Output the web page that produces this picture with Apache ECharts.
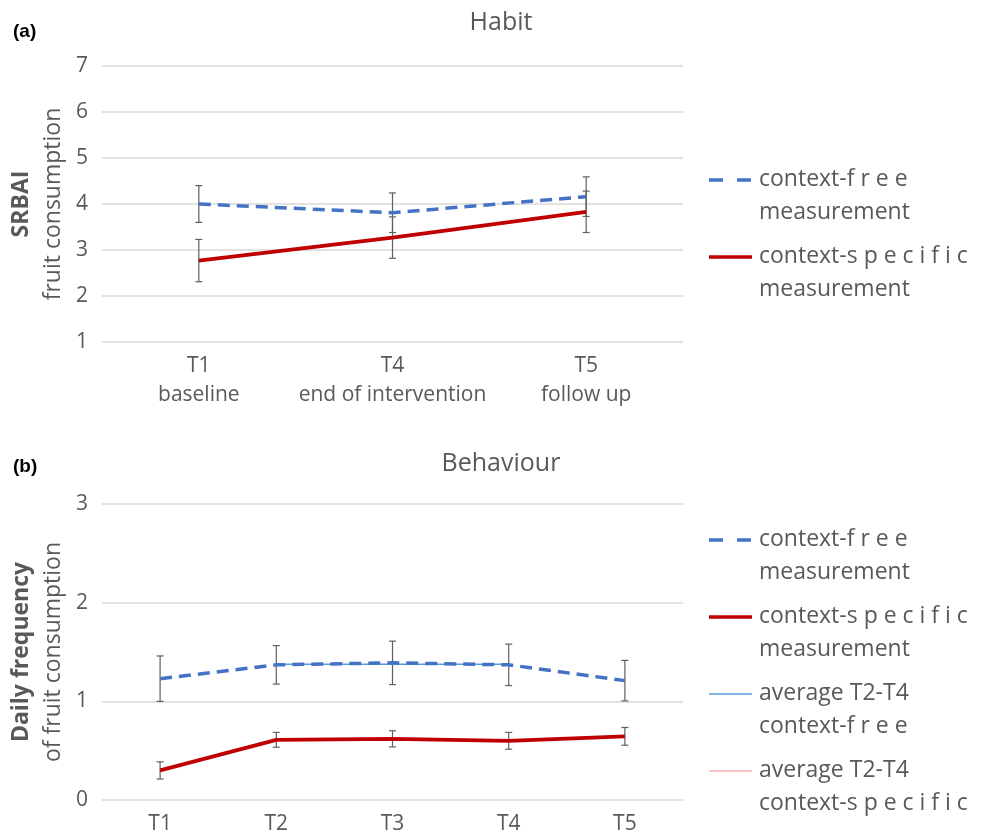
<!DOCTYPE html>
<html>
<head>
<meta charset="utf-8">
<script src="https://cdn.jsdelivr.net/npm/echarts@6/dist/echarts.min.js"></script>
<style>
  html, body { margin: 0; padding: 0; background: #fff; }
  #chart { width: 984px; height: 839px; }
</style>
</head>
<body>
<div id="chart"></div>
<script>
// panel (a) habit
var habitCats = ['T1\nbaseline', 'T4\nend of intervention', 'T5\nfollow up'];
var habitFree = [4.00, 3.81, 4.16];
var habitFreeErr = [0.40, 0.43, 0.43];
var habitSpec = [2.77, 3.27, 3.83];
var habitSpecErr = [0.46, 0.45, 0.45];

// panel (b) behaviour
var behavCats = ['T1', 'T2', 'T3', 'T4', 'T5'];
var behavFree = [1.23, 1.37, 1.39, 1.37, 1.21];
var behavFreeErr = [0.23, 0.195, 0.22, 0.21, 0.205];
var behavSpec = [0.30, 0.61, 0.62, 0.60, 0.645];
var behavSpecErr = [0.087, 0.075, 0.082, 0.085, 0.09];
var avgFree = 1.375;
var avgSpec = 0.61;

var legendA = ['context-f r e e\nmeasurement', 'context-s p e c i f i c\nmeasurement'];
var legendB = ['context-f r e e\nmeasurement', 'context-s p e c i f i c\nmeasurement',
               'average T2-T4\ncontext-f r e e', 'average T2-T4\ncontext-s p e c i f i c'];

var FONT = '"Open Sans", sans-serif';
var GREY = '#595959';
var BLUE = '#4472C4';
var RED = '#C00000';
var LBLUE = '#5B9BD5';
var PINK = '#F4B0B0';

var chart = echarts.init(document.getElementById('chart'));

function errorBars(ax, vals, errs) {
    return {
        type: 'custom',
        xAxisIndex: ax,
        yAxisIndex: ax,
        silent: true,
        z: 1,
        data: vals.map(function (v, i) { return [i, v - errs[i], v + errs[i]]; }),
        renderItem: function (params, api) {
            var lo = api.coord([api.value(0), api.value(1)]);
            var hi = api.coord([api.value(0), api.value(2)]);
            var w = 3.5;
            var st = { stroke: '#606060', lineWidth: 1.2 };
            return {
                type: 'group',
                children: [
                    { type: 'line', shape: { x1: hi[0], y1: hi[1], x2: lo[0], y2: lo[1] }, style: st },
                    { type: 'line', shape: { x1: hi[0] - w, y1: hi[1], x2: hi[0] + w, y2: hi[1] }, style: st },
                    { type: 'line', shape: { x1: lo[0] - w, y1: lo[1], x2: lo[0] + w, y2: lo[1] }, style: st }
                ]
            };
        }
    };
}

// T2-T4 only
function avgLine(v) {
    return behavCats.map(function (c, i) { return (i >= 1 && i <= 3) ? v : null; });
}

function legendGraphics(labels, styles, firstY) {
    var out = [];
    labels.forEach(function (lab, i) {
        var y = firstY[i];
        out.push({
            type: 'line',
            shape: { x1: 709, y1: y, x2: 752, y2: y },
            style: styles[i]
        });
        out.push({
            type: 'text',
            x: 759,
            y: y - 17,
            style: {
                text: lab,
                font: '23px ' + FONT,
                fill: GREY,
                lineHeight: 33,
                verticalAlign: 'top'
            }
        });
    });
    return out;
}

var legendStyles = [
    { stroke: BLUE, lineWidth: 3.5, lineDash: [14, 14] },
    { stroke: RED, lineWidth: 3.5 },
    { stroke: LBLUE, lineWidth: 1.5 },
    { stroke: PINK, lineWidth: 1.5 }
];

var yNameRich = {
    a: { fontFamily: FONT, fontWeight: 'bold', fontSize: 23, color: GREY, lineHeight: 32 },
    b: { fontFamily: FONT, fontSize: 23, color: GREY, lineHeight: 32 }
};

function yAxisCfg(gi, min, max, name) {
    return {
        type: 'value',
        gridIndex: gi,
        min: min,
        max: max,
        interval: 1,
        name: name,
        nameLocation: 'middle',
        nameRotate: 90,
        nameGap: 33,
        nameTextStyle: { rich: yNameRich },
        axisLine: { show: false },
        axisTick: { show: false },
        axisLabel: { color: GREY, fontFamily: FONT, fontSize: 21, margin: 14 },
        splitLine: { lineStyle: { color: '#D9D9D9', width: 1.5 } }
    };
}

function xAxisCfg(gi, cats) {
    return {
        type: 'category',
        gridIndex: gi,
        data: cats,
        boundaryGap: true,
        axisLine: { show: false },
        axisTick: { show: false },
        axisLabel: { color: GREY, fontFamily: FONT, fontSize: 21, lineHeight: 29, margin: 10, interval: 0 }
    };
}

chart.setOption({
    backgroundColor: '#fff',
    animation: false,
    title: [
        { text: 'Habit', left: 496, top: 5, textAlign: 'center',
          textStyle: { fontFamily: FONT, fontSize: 25, fontWeight: 'normal', color: GREY } },
        { text: 'Behaviour', left: 496, top: 446, textAlign: 'center',
          textStyle: { fontFamily: FONT, fontSize: 25, fontWeight: 'normal', color: GREY } },
        { text: '(a)', left: 8, top: 17,
          textStyle: { fontFamily: '"Liberation Sans", Arial, sans-serif', fontSize: 19, fontWeight: 'bold', color: '#000' } },
        { text: '(b)', left: 8, top: 452,
          textStyle: { fontFamily: '"Liberation Sans", Arial, sans-serif', fontSize: 19, fontWeight: 'bold', color: '#000' } }
    ],
    grid: [
        { left: 102, width: 581, top: 66, height: 276 },
        { left: 102, width: 581, top: 504, height: 298 }
    ],
    xAxis: [xAxisCfg(0, habitCats), xAxisCfg(1, behavCats)],
    yAxis: [
        yAxisCfg(0, 1, 7, '{a|SRBAI}\n{b|fruit consumption}'),
        yAxisCfg(1, 0, 3, '{a|Daily frequency}\n{b|of fruit consumption}')
    ],
    graphic: legendGraphics(legendA, legendStyles, [180, 257])
        .concat(legendGraphics(legendB, legendStyles, [540, 617, 694, 771])),
    series: [
        errorBars(0, habitFree, habitFreeErr),
        errorBars(0, habitSpec, habitSpecErr),
        {
            name: legendA[0], type: 'line', xAxisIndex: 0, yAxisIndex: 0,
            data: habitFree, symbol: 'none', z: 3,
            lineStyle: { color: BLUE, width: 3.5, type: [12, 7] }
        },
        {
            name: legendA[1], type: 'line', xAxisIndex: 0, yAxisIndex: 0,
            data: habitSpec, symbol: 'none', z: 3,
            lineStyle: { color: RED, width: 3.8 }
        },
        {
            name: legendB[2], type: 'line', xAxisIndex: 1, yAxisIndex: 1,
            data: avgLine(avgFree), symbol: 'none', z: 2,
            lineStyle: { color: LBLUE, width: 1.5 }
        },
        {
            name: legendB[3], type: 'line', xAxisIndex: 1, yAxisIndex: 1,
            data: avgLine(avgSpec), symbol: 'none', z: 2,
            lineStyle: { color: PINK, width: 1.5 }
        },
        errorBars(1, behavFree, behavFreeErr),
        errorBars(1, behavSpec, behavSpecErr),
        {
            name: legendB[0], type: 'line', xAxisIndex: 1, yAxisIndex: 1,
            data: behavFree, symbol: 'none', z: 3,
            lineStyle: { color: BLUE, width: 3.5, type: [12, 7] }
        },
        {
            name: legendB[1], type: 'line', xAxisIndex: 1, yAxisIndex: 1,
            data: behavSpec, symbol: 'none', z: 3,
            lineStyle: { color: RED, width: 3.8 }
        }
    ]
});
</script>
</body>
</html>
